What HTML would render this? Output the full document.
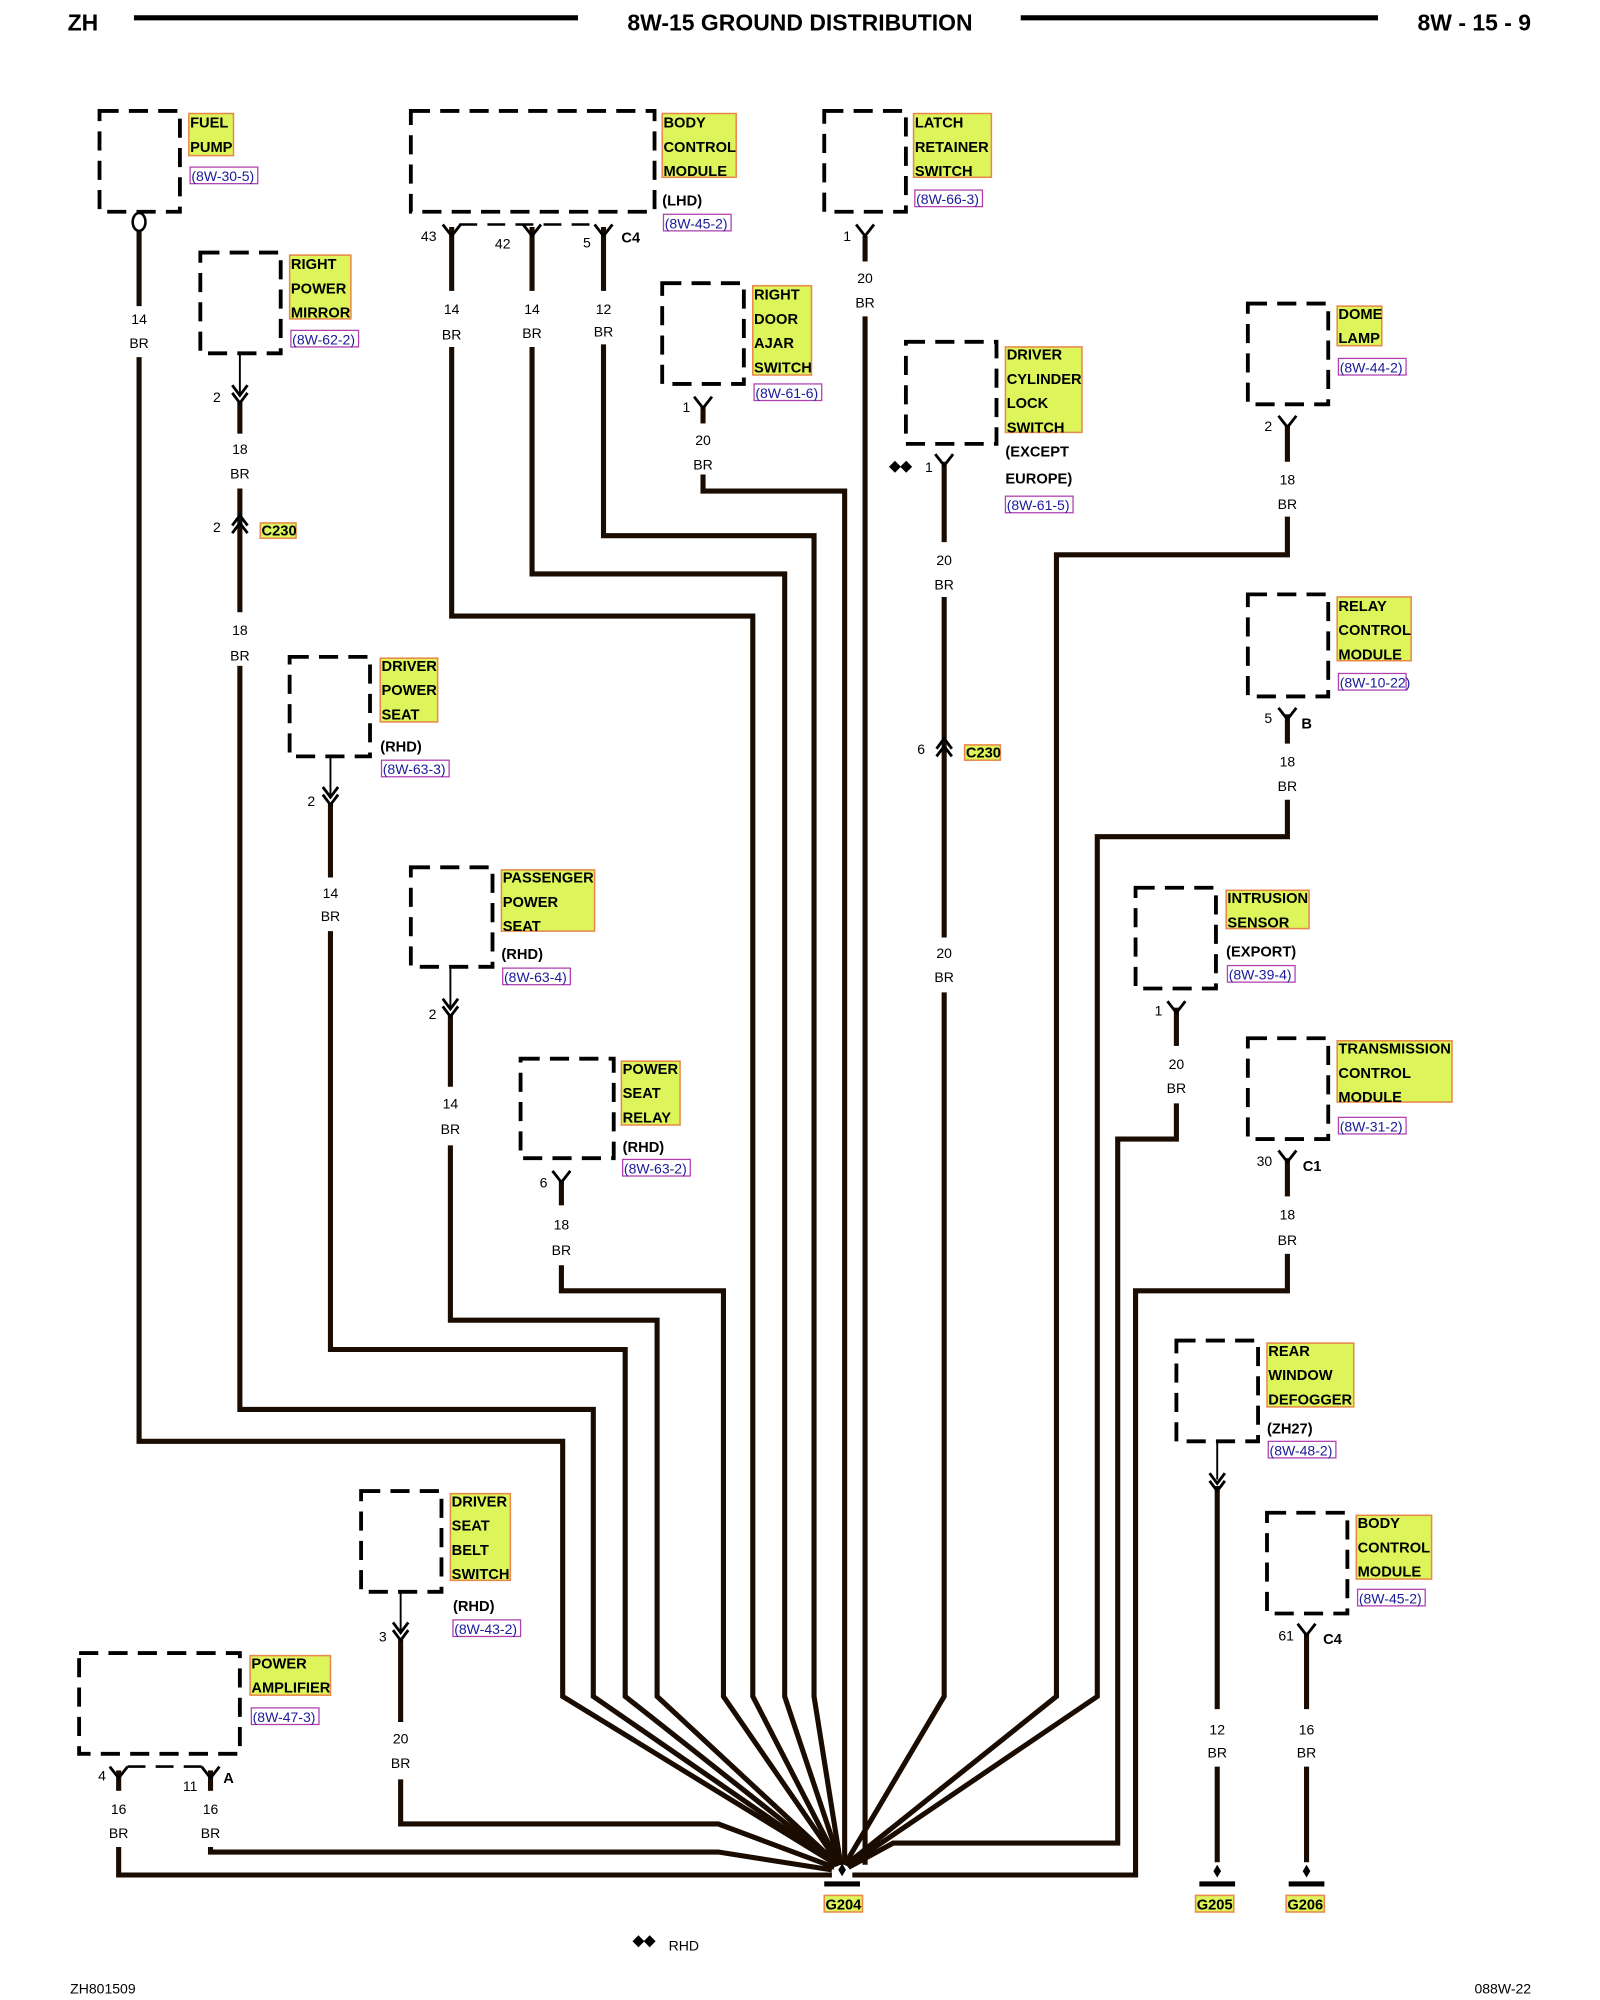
<!DOCTYPE html>
<html><head><meta charset="utf-8"><style>
html,body{margin:0;padding:0;background:#fff;}
svg{display:block;}
text{font-family:"Liberation Sans",Arial,sans-serif;}
.h{font-weight:bold;font-size:18px;}
.l{font-weight:bold;font-size:11.5px;fill:#000;}
.n{font-size:11px;fill:#000;}
.r{font-size:11px;fill:#1a1a9a;}
.box{fill:none;stroke:#000;stroke-width:3;stroke-dasharray:15 8;}
.w{fill:none;stroke:#1a0c00;stroke-width:4;stroke-linejoin:miter;}
.y{fill:#ddf55a;stroke:#e8884a;stroke-width:1.2;}
.rf{fill:none;stroke:#b040b0;stroke-width:1;}
.c{fill:none;stroke:#000;stroke-width:2.2;}
</style></head><body>
<svg width="1600" height="2000" viewBox="0 0 1254 1568" preserveAspectRatio="none" xmlns="http://www.w3.org/2000/svg">
<text x="53" y="24" class="h">ZH</text>
<line x1="105" y1="14" x2="453" y2="14" stroke="#000" stroke-width="4"/>
<text x="627" y="24" class="h" text-anchor="middle">8W-15 GROUND DISTRIBUTION</text>
<line x1="800" y1="14" x2="1080" y2="14" stroke="#000" stroke-width="4"/>
<text x="1200" y="24" class="h" text-anchor="end">8W - 15 - 9</text>

<polyline class="w" points="109,280 109,1130 441,1130 441,1330 656,1462"/>
<polyline class="w" points="188,522 188,1105 465,1105 465,1330 656,1462"/>
<polyline class="w" points="259,730 259,1058 490,1058 490,1330 657,1462"/>
<polyline class="w" points="353,898 353,1035 515,1035 515,1330 657,1462"/>
<polyline class="w" points="440,992 440,1012 567,1012 567,1330 658,1462"/>
<polyline class="w" points="354,272 354,483 590,483 590,1330 658,1462"/>
<polyline class="w" points="417,272 417,450 615,450 615,1330 659,1462"/>
<polyline class="w" points="473,270 473,420 638,420 638,1330 659,1462"/>
<polyline class="w" points="551,372 551,385 662,385 662,1462"/>
<polyline class="w" points="678,248 678,1462"/>
<polyline class="w" points="740,778 740,1330 662,1462"/>
<polyline class="w" points="1009,405 1009,435 828,435 828,1330 663,1462"/>
<polyline class="w" points="1009,627 1009,656 860,656 860,1330 664,1463"/>
<polyline class="w" points="922,865 922,893 876,893 876,1445 700,1445 665,1464"/>
<polyline class="w" points="1009,983 1009,1012 890,1012 890,1470 668,1470"/>
<polyline class="w" points="314,1395 314,1430 563,1430 654,1464"/>
<polyline class="w" points="165,1448 165,1452 563,1452 652,1466"/>
<polyline class="w" points="93,1448 93,1470 652,1470"/>
<line class="w" x1="109" y1="180" x2="109" y2="240"/>
<line class="w" x1="188" y1="315" x2="188" y2="340"/>
<line class="w" x1="188" y1="383" x2="188" y2="480"/>
<line class="w" x1="259" y1="630" x2="259" y2="688"/>
<line class="w" x1="353" y1="795" x2="353" y2="852"/>
<line class="w" x1="440" y1="925" x2="440" y2="945"/>
<line class="w" x1="314" y1="1284" x2="314" y2="1350"/>
<line class="w" x1="93" y1="1388" x2="93" y2="1404"/>
<line class="w" x1="165" y1="1388" x2="165" y2="1404"/>
<line class="w" x1="354" y1="178" x2="354" y2="228"/>
<line class="w" x1="417" y1="178" x2="417" y2="228"/>
<line class="w" x1="473" y1="178" x2="473" y2="228"/>
<line class="w" x1="551" y1="318" x2="551" y2="332"/>
<line class="w" x1="678" y1="185" x2="678" y2="205"/>
<line class="w" x1="740" y1="362" x2="740" y2="425"/>
<line class="w" x1="740" y1="468" x2="740" y2="735"/>
<line class="w" x1="1009" y1="333" x2="1009" y2="362"/>
<line class="w" x1="1009" y1="560" x2="1009" y2="583"/>
<line class="w" x1="922" y1="790" x2="922" y2="820"/>
<line class="w" x1="1009" y1="908" x2="1009" y2="938"/>
<line class="w" x1="954" y1="1165" x2="954" y2="1340"/>
<line class="w" x1="954" y1="1385" x2="954" y2="1460"/>
<line class="w" x1="1024" y1="1280" x2="1024" y2="1340"/>
<line class="w" x1="1024" y1="1385" x2="1024" y2="1460"/>

<g stroke="#000" stroke-width="1.5">
<line x1="188" y1="277" x2="188" y2="310"/>
<line x1="259" y1="593" x2="259" y2="625"/>
<line x1="353" y1="758" x2="353" y2="790"/>
<line x1="314" y1="1248" x2="314" y2="1280"/>
<line x1="954" y1="1130" x2="954" y2="1160"/>
</g>

<rect class="box" x="78" y="87" width="63" height="79"/>
<rect class="box" x="322" y="87" width="191" height="79"/>
<rect class="box" x="646" y="87" width="64" height="79"/>
<rect class="box" x="157" y="198" width="63" height="79"/>
<rect class="box" x="519" y="222" width="64" height="79"/>
<rect class="box" x="710" y="268" width="71" height="80"/>
<rect class="box" x="978" y="238" width="63" height="79"/>
<rect class="box" x="978" y="466" width="63" height="80"/>
<rect class="box" x="227" y="515" width="63" height="78"/>
<rect class="box" x="322" y="680" width="64" height="78"/>
<rect class="box" x="890" y="696" width="63" height="79"/>
<rect class="box" x="408" y="830" width="73" height="78"/>
<rect class="box" x="978" y="814" width="63" height="79"/>
<rect class="box" x="922" y="1051" width="64" height="79"/>
<rect class="box" x="283" y="1169" width="63" height="79"/>
<rect class="box" x="993" y="1186" width="63" height="79"/>
<rect class="box" x="62" y="1296" width="126" height="79"/>

<line x1="360" y1="176" x2="467" y2="176" stroke="#000" stroke-width="2" stroke-dasharray="14 8"/>
<line x1="100" y1="1385" x2="158" y2="1385" stroke="#000" stroke-width="2" stroke-dasharray="14 8"/>

<ellipse cx="109" cy="174" rx="5" ry="7" fill="#fff" stroke="#000" stroke-width="2"/>

<g class="c">
<path d="M347,176 L354,185 L361,176"/>
<path d="M410,176 L417,185 L424,176"/>
<path d="M466,176 L473,185 L480,176"/>
<path d="M671,176 L678,185 L685,176"/>
<path d="M544,311 L551,320 L558,311"/>
<path d="M733,356 L740,365 L747,356"/>
<path d="M1002,326 L1009,335 L1016,326"/>
<path d="M1002,555 L1009,564 L1016,555"/>
<path d="M915,785 L922,794 L929,785"/>
<path d="M433,918 L440,927 L447,918"/>
<path d="M1002,902 L1009,911 L1016,902"/>
<path d="M1017,1273 L1024,1282 L1031,1273"/>
<path d="M86,1385 L93,1394 L100,1385"/>
<path d="M158,1385 L165,1394 L172,1385"/>
<path d="M182,302 L188,310 L194,302 M182,308 L188,316 L194,308"/>
<path d="M253,617 L259,625 L265,617 M253,623 L259,631 L265,623"/>
<path d="M347,783 L353,791 L359,783 M347,789 L353,797 L359,789"/>
<path d="M308,1272 L314,1280 L320,1272 M308,1278 L314,1286 L320,1278"/>
<path d="M948,1155 L954,1163 L960,1155 M948,1161 L954,1169 L960,1161"/>
<path d="M182,412 L188,404 L194,412 M182,418 L188,410 L194,418"/>
<path d="M734,587 L740,579 L746,587 M734,593 L740,585 L746,593"/>
</g>

<g>
<path d="M660,1461 L657,1466 L660,1471 L663,1466Z" fill="#000"/>
<rect x="646" y="1475" width="28" height="4" fill="#000"/>
<path d="M954,1462 L951,1467 L954,1472 L957,1467Z" fill="#000"/>
<rect x="940" y="1475" width="28" height="4" fill="#000"/>
<path d="M1024,1462 L1021,1467 L1024,1472 L1027,1467Z" fill="#000"/>
<rect x="1010" y="1475" width="28" height="4" fill="#000"/>
</g>
<rect class="y" x="646" y="1486" width="30" height="13"/><text x="661" y="1497" class="l" text-anchor="middle">G204</text>
<rect class="y" x="937" y="1486" width="30" height="13"/><text x="952" y="1497" class="l" text-anchor="middle">G205</text>
<rect class="y" x="1008" y="1486" width="30" height="13"/><text x="1023" y="1497" class="l" text-anchor="middle">G206</text>

<g>
<rect class="y" x="148" y="89" width="35" height="33"/>
<text class="l" x="149" y="100">FUEL</text><text class="l" x="149" y="119">PUMP</text>
<rect class="rf" x="149" y="131" width="53" height="13"/><text class="r" x="150" y="142">(8W-30-5)</text>

<rect class="y" x="519" y="89" width="58" height="50"/>
<text class="l" x="520" y="100">BODY</text><text class="l" x="520" y="119">CONTROL</text><text class="l" x="520" y="138">MODULE</text>
<text class="l" x="519" y="161">(LHD)</text>
<rect class="rf" x="520" y="168" width="53" height="13"/><text class="r" x="521" y="179">(8W-45-2)</text>

<rect class="y" x="716" y="89" width="61" height="50"/>
<text class="l" x="717" y="100">LATCH</text><text class="l" x="717" y="119">RETAINER</text><text class="l" x="717" y="138">SWITCH</text>
<rect class="rf" x="717" y="149" width="53" height="13"/><text class="r" x="718" y="160">(8W-66-3)</text>

<rect class="y" x="227" y="200" width="48" height="50"/>
<text class="l" x="228" y="211">RIGHT</text><text class="l" x="228" y="230">POWER</text><text class="l" x="228" y="249">MIRROR</text>
<rect class="rf" x="228" y="259" width="53" height="13"/><text class="r" x="229" y="270">(8W-62-2)</text>

<rect class="y" x="590" y="224" width="46" height="70"/>
<text class="l" x="591" y="235">RIGHT</text><text class="l" x="591" y="254">DOOR</text><text class="l" x="591" y="273">AJAR</text><text class="l" x="591" y="292">SWITCH</text>
<rect class="rf" x="591" y="301" width="53" height="13"/><text class="r" x="592" y="312">(8W-61-6)</text>

<rect class="y" x="788" y="272" width="60" height="67"/>
<text class="l" x="789" y="282">DRIVER</text><text class="l" x="789" y="301">CYLINDER</text><text class="l" x="789" y="320">LOCK</text><text class="l" x="789" y="339">SWITCH</text>
<text class="l" x="788" y="358">(EXCEPT</text><text class="l" x="788" y="379">EUROPE)</text>
<rect class="rf" x="788" y="389" width="53" height="13"/><text class="r" x="789" y="400">(8W-61-5)</text>

<rect class="y" x="1048" y="240" width="35" height="31"/>
<text class="l" x="1049" y="250">DOME</text><text class="l" x="1049" y="269">LAMP</text>
<rect class="rf" x="1049" y="281" width="53" height="13"/><text class="r" x="1050" y="292">(8W-44-2)</text>

<rect class="y" x="1048" y="468" width="58" height="50"/>
<text class="l" x="1049" y="479">RELAY</text><text class="l" x="1049" y="498">CONTROL</text><text class="l" x="1049" y="517">MODULE</text>
<rect class="rf" x="1049" y="528" width="53" height="13"/><text class="r" x="1050" y="539">(8W-10-22)</text>

<rect class="y" x="298" y="516" width="45" height="50"/>
<text class="l" x="299" y="526">DRIVER</text><text class="l" x="299" y="545">POWER</text><text class="l" x="299" y="564">SEAT</text>
<text class="l" x="298" y="589">(RHD)</text>
<rect class="rf" x="299" y="596" width="53" height="13"/><text class="r" x="300" y="607">(8W-63-3)</text>

<rect class="y" x="393" y="682" width="73" height="48"/>
<text class="l" x="394" y="692">PASSENGER</text><text class="l" x="394" y="711">POWER</text><text class="l" x="394" y="730">SEAT</text>
<text class="l" x="393" y="752">(RHD)</text>
<rect class="rf" x="394" y="759" width="53" height="13"/><text class="r" x="395" y="770">(8W-63-4)</text>

<rect class="y" x="961" y="698" width="65" height="30"/>
<text class="l" x="962" y="708">INTRUSION</text><text class="l" x="962" y="727">SENSOR</text>
<text class="l" x="961" y="750">(EXPORT)</text>
<rect class="rf" x="962" y="757" width="53" height="13"/><text class="r" x="963" y="768">(8W-39-4)</text>

<rect class="y" x="487" y="832" width="46" height="50"/>
<text class="l" x="488" y="842">POWER</text><text class="l" x="488" y="861">SEAT</text><text class="l" x="488" y="880">RELAY</text>
<text class="l" x="488" y="903">(RHD)</text>
<rect class="rf" x="488" y="909" width="53" height="13"/><text class="r" x="489" y="920">(8W-63-2)</text>

<rect class="y" x="1048" y="816" width="90" height="48"/>
<text class="l" x="1049" y="826">TRANSMISSION</text><text class="l" x="1049" y="845">CONTROL</text><text class="l" x="1049" y="864">MODULE</text>
<rect class="rf" x="1049" y="876" width="53" height="13"/><text class="r" x="1050" y="887">(8W-31-2)</text>

<rect class="y" x="993" y="1053" width="68" height="50"/>
<text class="l" x="994" y="1063">REAR</text><text class="l" x="994" y="1082">WINDOW</text><text class="l" x="994" y="1101">DEFOGGER</text>
<text class="l" x="993" y="1124">(ZH27)</text>
<rect class="rf" x="994" y="1130" width="53" height="13"/><text class="r" x="995" y="1141">(8W-48-2)</text>

<rect class="y" x="353" y="1171" width="47" height="68"/>
<text class="l" x="354" y="1181">DRIVER</text><text class="l" x="354" y="1200">SEAT</text><text class="l" x="354" y="1219">BELT</text><text class="l" x="354" y="1238">SWITCH</text>
<text class="l" x="355" y="1263">(RHD)</text>
<rect class="rf" x="355" y="1270" width="53" height="13"/><text class="r" x="356" y="1281">(8W-43-2)</text>

<rect class="y" x="1063" y="1188" width="59" height="50"/>
<text class="l" x="1064" y="1198">BODY</text><text class="l" x="1064" y="1217">CONTROL</text><text class="l" x="1064" y="1236">MODULE</text>
<rect class="rf" x="1064" y="1246" width="53" height="13"/><text class="r" x="1065" y="1257">(8W-45-2)</text>

<rect class="y" x="196" y="1298" width="63" height="31"/>
<text class="l" x="197" y="1308">POWER</text><text class="l" x="197" y="1327">AMPLIFIER</text>
<rect class="rf" x="197" y="1339" width="53" height="13"/><text class="r" x="198" y="1350">(8W-47-3)</text>

<rect class="y" x="204" y="410" width="28" height="12"/><text class="l" x="205" y="420">C230</text>
<rect class="y" x="756" y="584" width="28" height="12"/><text class="l" x="757" y="594">C230</text>
</g>

<g class="n" text-anchor="middle">
<text x="109" y="254">14</text><text x="109" y="273">BR</text>
<text x="170" y="315">2</text>
<text x="188" y="356">18</text><text x="188" y="375">BR</text>
<text x="170" y="417">2</text>
<text x="188" y="498">18</text><text x="188" y="518">BR</text>
<text x="336" y="189">43</text><text x="394" y="195">42</text><text x="460" y="194">5</text>
<text x="354" y="246">14</text><text x="354" y="266">BR</text>
<text x="417" y="246">14</text><text x="417" y="265">BR</text>
<text x="473" y="246">12</text><text x="473" y="264">BR</text>
<text x="664" y="189">1</text>
<text x="678" y="222">20</text><text x="678" y="241">BR</text>
<text x="538" y="323">1</text>
<text x="551" y="349">20</text><text x="551" y="368">BR</text>
<text x="728" y="370">1</text>
<text x="740" y="443">20</text><text x="740" y="462">BR</text>
<text x="722" y="591">6</text>
<text x="740" y="751">20</text><text x="740" y="770">BR</text>
<text x="994" y="338">2</text>
<text x="1009" y="380">18</text><text x="1009" y="399">BR</text>
<text x="994" y="567">5</text>
<text x="1009" y="601">18</text><text x="1009" y="620">BR</text>
<text x="244" y="632">2</text>
<text x="259" y="704">14</text><text x="259" y="722">BR</text>
<text x="339" y="799">2</text>
<text x="353" y="869">14</text><text x="353" y="889">BR</text>
<text x="908" y="796">1</text>
<text x="922" y="838">20</text><text x="922" y="857">BR</text>
<text x="426" y="931">6</text>
<text x="440" y="964">18</text><text x="440" y="984">BR</text>
<text x="991" y="914">30</text>
<text x="1009" y="956">18</text><text x="1009" y="976">BR</text>
<text x="300" y="1287">3</text>
<text x="314" y="1367">20</text><text x="314" y="1386">BR</text>
<text x="1008" y="1286">61</text>
<text x="954" y="1360">12</text><text x="954" y="1378">BR</text>
<text x="1024" y="1360">16</text><text x="1024" y="1378">BR</text>
<text x="80" y="1396">4</text><text x="149" y="1404">11</text>
<text x="93" y="1422">16</text><text x="93" y="1441">BR</text>
<text x="165" y="1422">16</text><text x="165" y="1441">BR</text>
</g>
<g class="l">
<text x="487" y="190">C4</text>
<text x="1020" y="571">B</text>
<text x="1021" y="918">C1</text>
<text x="1037" y="1289">C4</text>
<text x="175" y="1398">A</text>
<text x="697" y="369">◆◆</text>
</g>
<text x="496" y="1525" class="l">◆◆</text>
<text x="524" y="1529" class="n">RHD</text>
<text x="55" y="1563" class="n">ZH801509</text>
<text x="1200" y="1563" class="n" text-anchor="end">088W-22</text>
</svg>
</body></html>
